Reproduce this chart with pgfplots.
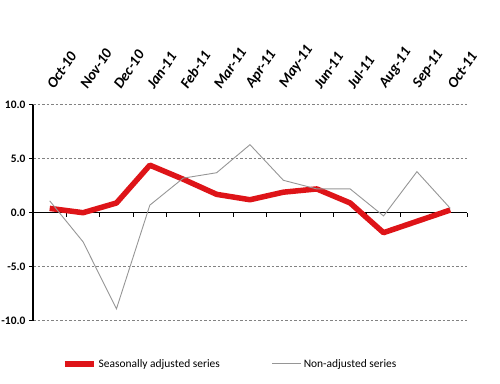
\documentclass[border=0pt]{standalone}
\usepackage{fontspec}
\setmainfont{Carlito}
\usepackage{pgfplots}
\pgfplotsset{compat=1.18}
\definecolor{sared}{RGB}{222,20,24}
\definecolor{nagray}{RGB}{150,150,150}
\definecolor{gridgray}{RGB}{130,130,130}
\begin{document}
\begin{tikzpicture}
\path[use as bounding box] (0,0) rectangle (500bp,384bp);
\begin{axis}[
 at={(33bp,63.3bp)}, anchor=south west,
 scale only axis, width=434bp, height=216bp,
 xmin=-0.5, xmax=12.5, ymin=-10, ymax=10,
 axis x line=middle, axis y line=left,
 axis line style={black, line width=1.6bp, -},
 hide obscured x ticks=false, hide obscured y ticks=false,
 xtick={-0.5,0.5,...,12.5}, xticklabels={},
 tick style={black, line width=1bp}, major tick length=4bp,
 xtick align=outside, ytick align=outside,
 ytick={-10,-5,0,5,10},
 yticklabel style={font=\bfseries\fontsize{11.5}{13}\selectfont, /pgf/number format/.cd, fixed, fixed zerofill, precision=1, assume math mode=true},
 ymajorgrids, grid style={gridgray, line width=0.9bp, dash pattern=on 2.5bp off 2bp},
 legend style={at={(0.06,-0.2)}, anchor=west, draw=none, fill=none, legend columns=2,
   font=\fontsize{11.5}{13}\selectfont,
   /tikz/every even column/.append style={column sep=50bp}},
 legend image code/.code={\path (0bp,0bp) -- (29bp,0bp); \draw[#1] (0bp,0bp) -- (22bp,0bp);},
]
\addplot[sared, line width=5.5bp, line join=round] coordinates {
(0,0.4) (1,0.0) (2,0.9) (3,4.4) (4,3.1) (5,1.7) (6,1.2) (7,1.9) (8,2.2) (9,0.9) (10,-1.85) (11,-0.8) (12,0.25)};
\addlegendentry{Seasonally adjusted series}
\addplot[nagray, line width=0.9bp] coordinates {
(0,1.1) (1,-2.7) (2,-8.9) (3,0.7) (4,3.2) (5,3.7) (6,6.3) (7,3.0) (8,2.2) (9,2.2) (10,-0.3) (11,3.8) (12,0.4)};
\addlegendentry{Non-adjusted series}
\end{axis}
\begin{axis}[
 at={(33bp,63.3bp)}, anchor=south west,
 scale only axis, width=434bp, height=216bp,
 xmin=-0.5, xmax=12.5, ymin=-10, ymax=10,
 hide y axis, axis x line*=top, x axis line style={draw=none},
 xtick={0,...,12}, major tick length=0pt,
 xticklabels={Oct-10,Nov-10,Dec-10,Jan-11,Feb-11,Mar-11,Apr-11,May-11,Jun-11,Jul-11,Aug-11,Sep-11,Oct-11},
 xticklabel style={yshift=13bp, xshift=5bp, rotate=56, anchor=south west, inner sep=1bp, font=\bfseries\itshape\fontsize{15}{17}\selectfont},
]
\end{axis}
\end{tikzpicture}
\end{document}
